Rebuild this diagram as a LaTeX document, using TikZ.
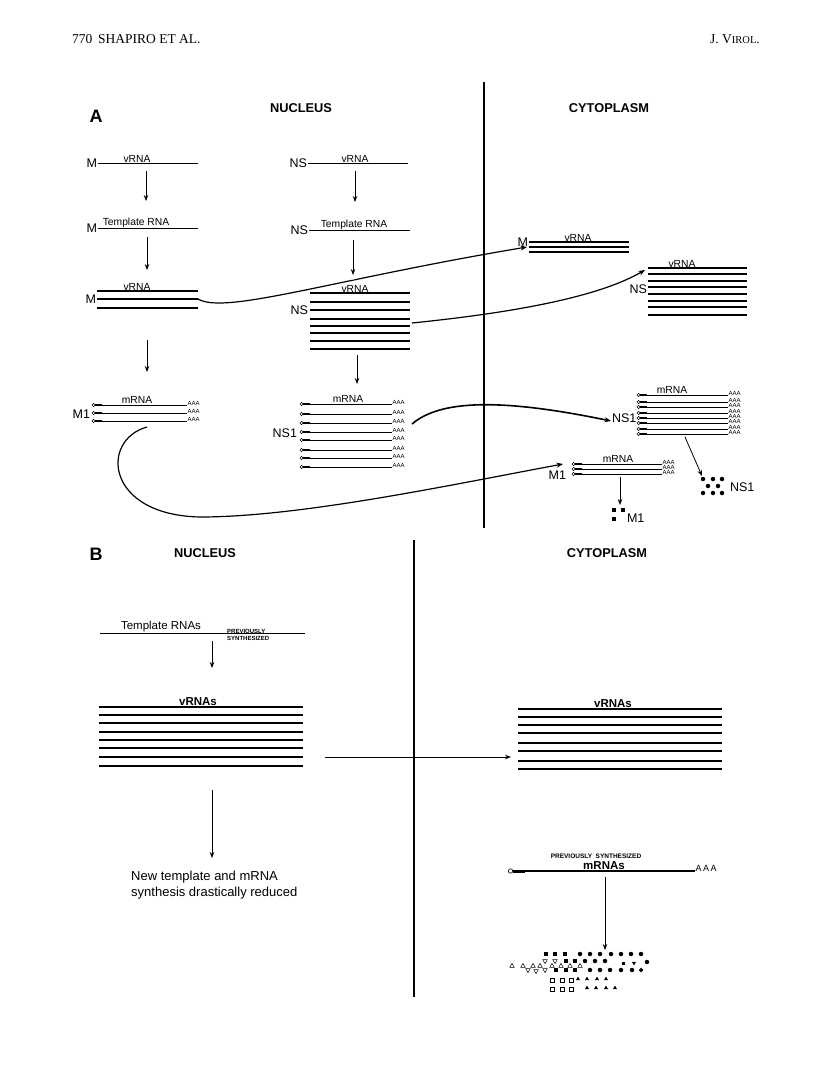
\documentclass[tikz,border=0pt]{standalone}
\usepackage{fontspec}
\setmainfont{Liberation Serif}
\setsansfont{Liberation Sans}
\usetikzlibrary{arrows.meta,calc,positioning,shapes.geometric}
\tikzset{
  hdr/.style={font=\fontsize{13.5}{14}\selectfont,inner sep=0pt},
  panel/.style={font=\sffamily\bfseries\fontsize{18}{18}\selectfont,inner sep=0pt},
  head/.style={font=\sffamily\bfseries\fontsize{12.8}{13}\selectfont,inner sep=0pt},
  gene/.style={font=\sffamily\fontsize{12.5}{13}\selectfont,inner sep=0.8pt},
  tag/.style={font=\sffamily\fontsize{10.3}{11}\selectfont,inner sep=0.6pt,anchor=south},
  btag/.style={tag,font=\sffamily\bfseries\fontsize{11.5}{12}\selectfont},
  tiny/.style={font=\sffamily\bfseries\fontsize{6}{6}\selectfont,inner sep=0pt},
  aaa/.style={font=\sffamily\fontsize{6}{6}\selectfont,inner sep=0.3pt},
  strand/.style={line width=1.3pt},
  tstrand/.style={line width=0.9pt},
  wall/.style={line width=1.8pt},
  flow/.style={-{Stealth[length=6pt,width=4.5pt]},line width=0.8pt},
  curve/.style={-{Stealth[length=6.5pt,width=5pt]},line width=1.2pt},
  fsq/.style={fill,rectangle,minimum size=3.8pt,inner sep=0pt},
  osq/.style={draw,line width=0.6pt,rectangle,minimum size=3.8pt,inner sep=0pt},
  fdot/.style={fill,circle,minimum size=4.5pt,inner sep=0pt},
  otri/.style={draw,line width=0.5pt,regular polygon,regular polygon sides=3,minimum size=5.2pt,inner sep=0pt},
  odtri/.style={otri,shape border rotate=180},
  ftri/.style={fill,regular polygon,regular polygon sides=3,minimum size=4.8pt,inner sep=0pt},
  fdtri/.style={ftri,shape border rotate=180},
  pics/mrna/.style={code={
    \draw[line width=0.5pt] (1.6,0) circle (1.6pt);
    \draw[line width=2pt] (3.2,0) -- (10,0);
    \draw[line width=0.8pt] (10,0) -- (#1,0);
    \node[aaa,anchor=west] at (#1,-1.5) {AAA};
  }}
}

\begin{document}
\begin{tikzpicture}[x=1pt,y=-1pt]
  \useasboundingbox (0,0) rectangle (816,1076);

  \node[hdr,anchor=base west] (pgno) at (72,43) {770};
  \node[hdr,anchor=base west] (auth) at (98,43) {SHAPIRO ET AL.};
  \node[hdr,anchor=base east] (jrnl) at (760,43) {J. V{\fontsize{10.5}{11}\selectfont IROL}.};

  % panel A
  \node[panel] (labA) at (96,116) {A};
  \node[head] (nucA) at (301,108) {NUCLEUS};
  \node[head] (cytA) at (609,108) {CYTOPLASM};
  \draw[wall] (484,82) -- (484,528);

  \node[gene,anchor=east] (Mv) at (98,163) {M};
  \draw[tstrand] (Mv.east) -- (198,163);
  \node[tag] (Mvl) at (137,163) {vRNA};
  \coordinate (Ma1) at (146,171);
  \coordinate (Ma1e) at (146,201);
  \draw[flow] (Ma1) -- (Ma1e);
  \node[gene,anchor=east] (Mt) at (98,228) {M};
  \draw[tstrand] (Mt.east) -- (198,228);
  \node[tag] (Mtl) at (136,228) {Template RNA};
  \coordinate (Ma2) at (147,237);
  \coordinate (Ma2e) at (147,270);
  \draw[flow] (Ma2) -- (Ma2e);
  \foreach \y in {291,299,308} \draw[strand] (97,\y) -- (198,\y);
  \node[tag] (Mvl2) at (137,291) {vRNA};
  \node[gene,anchor=east] (Mv2) at (97,299) {M};
  \coordinate (Ma3) at (147,340);
  \coordinate (Ma3e) at (147,372);
  \draw[flow] (Ma3) -- (Ma3e);

  \node[gene,anchor=east] (NSv) at (308,163) {NS};
  \draw[tstrand] (NSv.east) -- (408,163);
  \node[tag] (NSvl) at (355,163) {vRNA};
  \coordinate (Na1) at (355,171);
  \coordinate (Na1e) at (355,202);
  \draw[flow] (Na1) -- (Na1e);
  \node[gene,anchor=east] (NSt) at (309,230) {NS};
  \draw[tstrand] (NSt.east) -- (410,230);
  \node[tag] (NStl) at (354,230) {Template RNA};
  \foreach \y in {293,302,310,319,326,333,341,349} \draw[strand] (310,\y) -- (410,\y);
  \node[tag] (NSvl2) at (355,293) {vRNA};
  \node[gene,anchor=east] (NSv2) at (309,310) {NS};
  \coordinate (Na3) at (357,355);
  \coordinate (Na3e) at (357,384);
  \draw[flow] (Na3) -- (Na3e);

  \node[gene,anchor=east] (Mc) at (529,242) {M};
  \foreach \y in {242,247,252} \draw[strand] (529,\y) -- (629,\y);
  \node[tag] (Mcl) at (578,242) {vRNA};
  \coordinate (Mtip) at (527,247);
  \foreach \y in {268,274,281,287,294,301,307,315} \draw[strand] (648,\y) -- (747,\y);
  \node[tag] (NScl) at (682,268) {vRNA};
  \node[gene,anchor=east] (NSc) at (648,289) {NS};
  \coordinate (NStip) at (645,270);

  \draw[curve] (198,299) .. controls (225,315) and (330,280) .. (Mtip);
  \fill[white] (353,277) circle (2.6pt);
  \coordinate (Na2) at (353,240);
  \coordinate (Na2e) at (353,275);
  \draw[flow] (Na2) -- (Na2e);
  \draw[curve] (412,323) .. controls (520,312) and (600,296) .. (NStip);

  \foreach \y in {405,413,421} \pic at (92,\y) {mrna=95};
  \node[tag] (M1l) at (137,404) {mRNA};
  \node[gene,anchor=east] (M1n) at (91,414) {M1};
  \foreach \y in {404,414,423,432,440,450,458,467} \pic at (300,\y) {mrna=92};
  \node[tag] (NS1l) at (348,403) {mRNA};
  \node[gene,anchor=east] (NS1n) at (298,433) {NS1};

  \foreach \y in {395,402,407,413,418,423,429,434} \pic at (637,\y) {mrna=91};
  \node[tag] (NS1cl) at (672,394) {mRNA};
  \node[gene,anchor=west] (NS1c) at (611,418) {NS1};
  \foreach \y in {464,469,474} \pic at (572,\y) {mrna=90};
  \node[tag] (M1cl) at (618,463) {mRNA};
  \node[gene,anchor=east] (M1c) at (567,475) {M1};
  \coordinate (M1tip) at (563,464);
  \coordinate (NS1tip) at (611,421);

  \draw[curve] (147,427) .. controls (100,440) and (105,515) .. (200,517)
    .. controls (300,517) and (450,485) .. (M1tip);
  \draw[curve,line width=1.6pt] (412,424) .. controls (440,400) and (500,398) .. (NS1tip);

  \coordinate (Pa1) at (685,437);
  \coordinate (Pa1e) at (702,476);
  \draw[flow] (Pa1) -- (Pa1e);
  \foreach \x/\y [count=\i] in {703/479,713/479,722/479,708/486,718/486,703/493,713/493,722/493}
    \node[fdot] (ns-\i) at (\x,\y) {};
  \node[gene,anchor=west] (NS1p) at (729,487) {NS1};
  \coordinate (Pa2) at (620,477);
  \coordinate (Pa2e) at (620,505);
  \draw[flow] (Pa2) -- (Pa2e);
  \foreach \x/\y [count=\i] in {614/510,614/519,623/510}
    \node[fsq] (m-\i) at (\x,\y) {};
  \node[gene,anchor=west] (M1p) at (626,518) {M1};

  % panel B
  \node[panel] (labB) at (96,554) {B};
  \node[head] (nucB) at (205,553) {NUCLEUS};
  \node[head] (cytB) at (607,553) {CYTOPLASM};
  \draw[wall] (414,540) -- (414,997);

  \draw[tstrand] (100,633) -- (305,633);
  \node[tag,font=\sffamily\fontsize{11.5}{12}\selectfont] (tmpl) at (161,633) {Template RNAs};
  \node[tiny,anchor=south west] (prev) at (227,634) {PREVIOUSLY};
  \node[tiny,anchor=north west] (synt) at (227,636) {SYNTHESIZED};
  \coordinate (Ba1) at (212,641);
  \coordinate (Ba1e) at (212,668);
  \draw[flow] (Ba1) -- (Ba1e);

  \foreach \y in {707,715,723,732,740,748,757,766} \draw[strand] (99,\y) -- (303,\y);
  \node[btag] (vn) at (198,706) {vRNAs};
  \foreach \y in {709,717,725,733,743,751,761,769} \draw[strand] (518,\y) -- (722,\y);
  \node[btag] (vc) at (613,708) {vRNAs};
  \coordinate (Ba2) at (325,757);
  \coordinate (Ba2e) at (511,757);
  \draw[flow] (Ba2) -- (Ba2e);

  \coordinate (Ba3) at (212,790);
  \coordinate (Ba3e) at (212,858);
  \draw[flow] (Ba3) -- (Ba3e);
  \node[anchor=north west,align=left,inner sep=0pt,
    font=\sffamily\fontsize{13}{16}\selectfont] (note) at (131,871)
    {New template and mRNA\\synthesis drastically reduced};

  \draw[line width=0.6pt] (510.5,871) circle (2.2pt);
  \draw[line width=3pt] (513,871) -- (525,871);
  \draw[line width=1.3pt] (525,871) -- (695,871);
  \node[font=\sffamily\fontsize{9}{9}\selectfont,anchor=west,inner sep=0.5pt] (aaab) at (695,868) {A\,A\,A};
  \node[tiny,font=\sffamily\bfseries\fontsize{6.5}{7}\selectfont] (prev2) at (596,856) {PREVIOUSLY\ \ SYNTHESIZED};
  \node[btag] (mr) at (604,870) {mRNAs};
  \coordinate (Ba4) at (605,877);
  \coordinate (Ba4e) at (605,950);
  \draw[flow] (Ba4) -- (Ba4e);

  \foreach \x/\y [count=\i] in {546/954,555/954,565/954,566/961,575/961,556/970,566/970,575/970}
    \node[fsq] (q-\i) at (\x,\y) {};
  \foreach \x/\y [count=\i] in {580/954,590/954,600/954,611/954,621/954,631/954,641/954,
      585/961,595/961,605/961,647/962,590/970,600/970,610/970,621/970,632/970}
    \node[fdot] (c-\i) at (\x,\y) {};
  \node[fsq,minimum size=3pt] (q-9) at (623,963) {};
  \node[fdtri] (v-1) at (634,963) {};
  \node[fsq,rotate=45,minimum size=3.2pt] (d-1) at (641,970) {};
  \foreach \x/\y [count=\i] in {545/961,555/961,528/970,536/971,545/970}
    \node[odtri] (u-\i) at (\x,\y) {};
  \foreach \x/\y [count=\i] in {512/966,523/966,533/966,540/966,552/966,561/966,570/966,580/966}
    \node[otri] (t-\i) at (\x,\y) {};
  \foreach \x/\y [count=\i] in {552/980,562/980,571/980,552/989,562/989,571/989}
    \node[osq] (o-\i) at (\x,\y) {};
  \foreach \x/\y [count=\i] in {578/979,587/979,597/979,606/979,587/988,596/988,606/988,615/988}
    \node[ftri] (a-\i) at (\x,\y) {};
\end{tikzpicture}
\end{document}
